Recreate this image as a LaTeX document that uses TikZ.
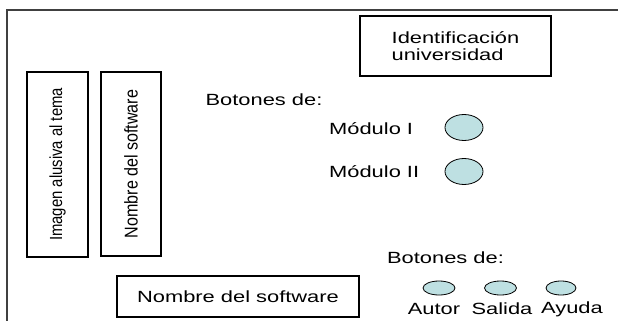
\documentclass[tikz,border=0pt]{standalone}
\usepackage{fontspec}
\setmainfont{Liberation Sans}
\newfontfamily\widefont[FakeStretch=1.35]{Liberation Sans}
\newfontfamily\imgfont[FakeStretch=0.85]{Liberation Sans}
\newfontfamily\nomfont[FakeStretch=0.87]{Liberation Sans}
\usetikzlibrary{shapes.geometric}
\definecolor{btnfill}{RGB}{190,224,226}
\definecolor{framecol}{RGB}{64,64,64}
\tikzset{
  box/.style={draw=black, line width=1.2pt, inner sep=0pt},
  regtext/.style={font=\widefont\fontsize{16.2}{17.4}\selectfont},
  lbl/.style={regtext, inner sep=0pt},
  vtext/.style={box, rotate=90},
  btn/.style={ellipse, draw=black, line width=0.8pt, fill=btnfill, inner sep=0pt},
}
\begin{document}
\begin{tikzpicture}[x=1pt, y=-1pt]
\useasboundingbox (0,0) rectangle (618,321);
% outer frame (cropped)
\coordinate (ftr) at (618,10);
\coordinate (ftl) at (6.5,10);
\coordinate (fbl) at (6.5,321);
\draw[framecol, line width=2pt] (ftr) -- (ftl) -- (fbl);
% university box
\node[box, regtext, align=left, minimum width=191pt, minimum height=60pt] (uni) at (455.5,46) {Identificación\\universidad};
% vertical boxes
\node[vtext, font=\imgfont\fontsize{17.5}{19}\selectfont, minimum width=185pt, minimum height=61pt] (img) at (57.5,164.5) {Imagen alusiva al tema};
\node[vtext, font=\nomfont\fontsize{18.5}{20}\selectfont, minimum width=184pt, minimum height=60pt] (nomv) at (131,164) {Nombre del software};
% top buttons
\node[lbl] (bt1) at (264,100) {Botones de:};
\node[lbl, anchor=west] (m1) at (329,129) {Módulo I};
\node[lbl, anchor=west] (m2) at (329,172) {Módulo II};
\node[btn, minimum width=38pt, minimum height=26pt] (b1) at (464,127.5) {};
\node[btn, minimum width=38pt, minimum height=26pt] (b2) at (464,171.5) {};
% bottom name box
\node[box, regtext, minimum width=242pt, minimum height=41pt] (nomh) at (238,296.5) {Nombre del software};
% bottom buttons
\node[lbl] (bt2) at (445.5,257.5) {Botones de:};
\node[btn, minimum width=32pt, minimum height=14pt] (ba) at (439,288) {};
\node[btn, minimum width=32pt, minimum height=14pt] (bs) at (500.5,288) {};
\node[btn, minimum width=30pt, minimum height=14pt] (bh) at (561,288) {};
\node[lbl] (la) at (434,309) {Autor};
\node[lbl] (ls) at (502,309) {Salida};
\node[lbl] (lh) at (572,309) {Ayuda};
\end{tikzpicture}
\end{document}
